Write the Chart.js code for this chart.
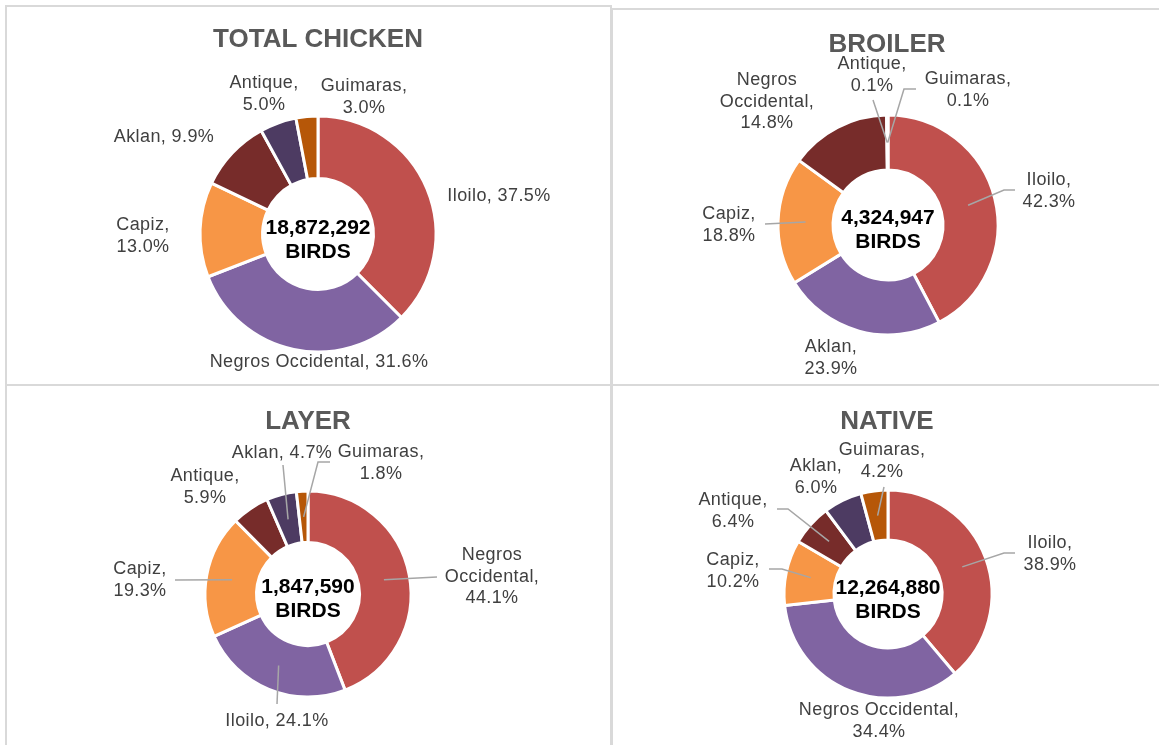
<!DOCTYPE html>
<html>
<head>
<meta charset="utf-8">
<script src="https://cdn.jsdelivr.net/npm/chart.js@4.4.0/dist/chart.umd.min.js"></script>
<style>
  html, body { margin:0; padding:0; background:#ffffff; width:1159px; height:745px; overflow:hidden; position:relative; }
  .panel { position:absolute; box-sizing:border-box; border:2px solid #d9d9d9; }
  canvas { position:absolute; }
</style>
</head>
<body>
<div class="panel" style="left:5px;top:5px;width:607px;height:381px"></div>
<div class="panel" style="left:611px;top:8px;width:600px;height:378px"></div>
<div class="panel" style="left:5px;top:384px;width:607px;height:420px"></div>
<div class="panel" style="left:611px;top:384px;width:600px;height:420px"></div>
<canvas id="c1" width="611" height="385" style="left:0;top:0"></canvas>
<canvas id="c2" width="548" height="385" style="left:611px;top:0"></canvas>
<canvas id="c3" width="611" height="360" style="left:0;top:385px"></canvas>
<canvas id="c4" width="548" height="360" style="left:611px;top:385px"></canvas>
<script>
// ---------------- DATA ----------------
const chartTitles = ['TOTAL CHICKEN', 'BROILER', 'LAYER', 'NATIVE'];
const birdTotals = ['18,872,292', '4,324,947', '1,847,590', '12,264,880'];

const totalCategories = ['Iloilo', 'Negros Occidental', 'Capiz', 'Aklan', 'Antique', 'Guimaras'];
const totalValues = [37.5, 31.6, 13.0, 9.9, 5.0, 3.0];

const broilerCategories = ['Iloilo', 'Aklan', 'Capiz', 'Negros Occidental', 'Antique', 'Guimaras'];
const broilerValues = [42.3, 23.9, 18.8, 14.8, 0.1, 0.1];

const layerCategories = ['Negros Occidental', 'Iloilo', 'Capiz', 'Antique', 'Aklan', 'Guimaras'];
const layerValues = [44.1, 24.1, 19.3, 5.9, 4.7, 1.8];

const nativeCategories = ['Iloilo', 'Negros Occidental', 'Capiz', 'Antique', 'Aklan', 'Guimaras'];
const nativeValues = [38.9, 34.4, 10.2, 6.4, 6.0, 4.2];

// ---------------- STYLE / LAYOUT ----------------
const sliceColors = ['#C0504D', '#8064A2', '#F79646', '#772C2A', '#4D3B62', '#B65708'];
const FONT = "'Liberation Sans', Arial, Helvetica, sans-serif";

// label layout: offsets from donut centre; wrap: 1 = one line, 2 = name/value, 3 = words/value
// leader: points (relative to centre) the leader line passes through before reaching the slice
const panels = [
  { canvas: 'c1', x0: 0, y0: 0, w: 611, h: 385, cx: 318, cy: 234, r: 119.5, cutout: '47%',
    title: [0, -194], center: 6,
    labels: [
      { pos: [181, -38], wrap: 1 },
      { pos: [1, 128], wrap: 1 },
      { pos: [-175, 2], wrap: 2 },
      { pos: [-154, -97], wrap: 1 },
      { pos: [-54, -140], wrap: 2 },
      { pos: [46, -137], wrap: 2 }
    ] },
  { canvas: 'c2', x0: 611, y0: 0, w: 548, h: 385, cx: 888, cy: 225, r: 111.5, cutout: '50%',
    title: [-1, -180], center: 5,
    labels: [
      { pos: [161, -34], wrap: 2, leader: [[127, -35], [116, -35]] },
      { pos: [-57, 133], wrap: 2 },
      { pos: [-159, 0], wrap: 2, leader: [[-123, -1]] },
      { pos: [-121, -123], wrap: 3 },
      { pos: [-16, -150], wrap: 2, leader: [[-15, -125]] },
      { pos: [80, -135], wrap: 2, leader: [[28, -136], [16, -136]] }
    ] },
  { canvas: 'c3', x0: 0, y0: 385, w: 611, h: 360, cx: 308, cy: 594, r: 104.5, cutout: '50%',
    title: [0, -172], center: 5,
    labels: [
      { pos: [184, -17], wrap: 3, leader: [[129, -17]] },
      { pos: [-31, 127], wrap: 1, leader: [[-31, 110]] },
      { pos: [-168, -14], wrap: 2, leader: [[-133, -14]] },
      { pos: [-103, -107], wrap: 2 },
      { pos: [-26, -141], wrap: 1, leader: [[-25, -129]] },
      { pos: [73, -131], wrap: 2, leader: [[22, -132], [10, -132]] }
    ] },
  { canvas: 'c4', x0: 611, y0: 385, w: 548, h: 360, cx: 888, cy: 594, r: 105.5, cutout: '52%',
    title: [-1, -172], center: 6,
    labels: [
      { pos: [162, -40], wrap: 2, leader: [[127, -41], [116, -41]] },
      { pos: [-9, 127], wrap: 2 },
      { pos: [-155, -23], wrap: 2, leader: [[-119, -25], [-106, -25]] },
      { pos: [-155, -83], wrap: 2, leader: [[-111, -85], [-100, -85]] },
      { pos: [-72, -117], wrap: 2 },
      { pos: [-6, -133], wrap: 2, leader: [[-4, -107]] }
    ] }
];

const datasets = [
  { cats: totalCategories, vals: totalValues },
  { cats: broilerCategories, vals: broilerValues },
  { cats: layerCategories, vals: layerValues },
  { cats: nativeCategories, vals: nativeValues }
];

function labelLines(name, value, wrap) {
  const v = value.toFixed(1) + '%';
  if (wrap === 1) return [name + ', ' + v];
  if (wrap === 2) return [name + ',', v];
  const words = name.split(' ');
  words[words.length - 1] += ',';
  return words.concat([v]);
}

const donutLabelsPlugin = {
  id: 'donutLabels',
  afterDatasetsDraw(chart, args, o) {
    const ctx = chart.ctx;
    const meta = chart.getDatasetMeta(0);
    const cx = meta.data[0].x, cy = meta.data[0].y;
    const labels = chart.data.labels;
    const values = chart.data.datasets[0].data;
    ctx.save();
    // leader lines
    ctx.strokeStyle = '#a6a6a6';
    ctx.lineWidth = 1.5;
    o.labels.forEach((lb, i) => {
      if (!lb.leader) return;
      const end = meta.data[i].getCenterPoint();
      ctx.beginPath();
      lb.leader.forEach((p, k) => {
        if (k === 0) ctx.moveTo(cx + p[0], cy + p[1]); else ctx.lineTo(cx + p[0], cy + p[1]);
      });
      ctx.lineTo(end.x, end.y);
      ctx.stroke();
    });
    // data labels
    ctx.fillStyle = '#404040';
    ctx.font = '18px ' + FONT;
    ctx.letterSpacing = '0.4px';
    ctx.textAlign = 'center';
    ctx.textBaseline = 'middle';
    const lh = 21.5;
    o.labels.forEach((lb, i) => {
      const lines = labelLines(labels[i], values[i], lb.wrap);
      const y0 = cy + lb.pos[1] - (lines.length - 1) * lh / 2;
      lines.forEach((t, k) => ctx.fillText(t, cx + lb.pos[0], y0 + k * lh));
    });
    // title
    ctx.letterSpacing = '0px';
    ctx.fillStyle = '#595959';
    ctx.font = 'bold 26px ' + FONT;
    ctx.fillText(o.title, cx + o.titlePos[0], cy + o.titlePos[1]);
    // centre text
    ctx.fillStyle = '#000000';
    ctx.font = 'bold 21px ' + FONT;
    ctx.fillText(o.total, cx, cy + o.center - 12);
    ctx.fillText('BIRDS', cx, cy + o.center + 12);
    ctx.restore();
  }
};

panels.forEach((p, idx) => {
  const d = datasets[idx];
  const lx = p.cx - p.x0, ly = p.cy - p.y0;
  new Chart(document.getElementById(p.canvas), {
    type: 'doughnut',
    data: {
      labels: d.cats,
      datasets: [{
        data: d.vals,
        backgroundColor: sliceColors,
        borderColor: '#ffffff',
        borderWidth: 3,
        hoverOffset: 0
      }]
    },
    options: {
      responsive: false,
      maintainAspectRatio: false,
      animation: false,
      cutout: p.cutout,
      layout: { padding: {
        left: lx - p.r, top: ly - p.r,
        right: p.w - (lx + p.r), bottom: p.h - (ly + p.r)
      } },
      plugins: {
        legend: { display: false },
        tooltip: { enabled: false },
        donutLabels: {
          title: chartTitles[idx], titlePos: p.title, total: birdTotals[idx],
          center: p.center, labels: p.labels
        }
      }
    },
    plugins: [donutLabelsPlugin]
  });
});
</script>
</body>
</html>
